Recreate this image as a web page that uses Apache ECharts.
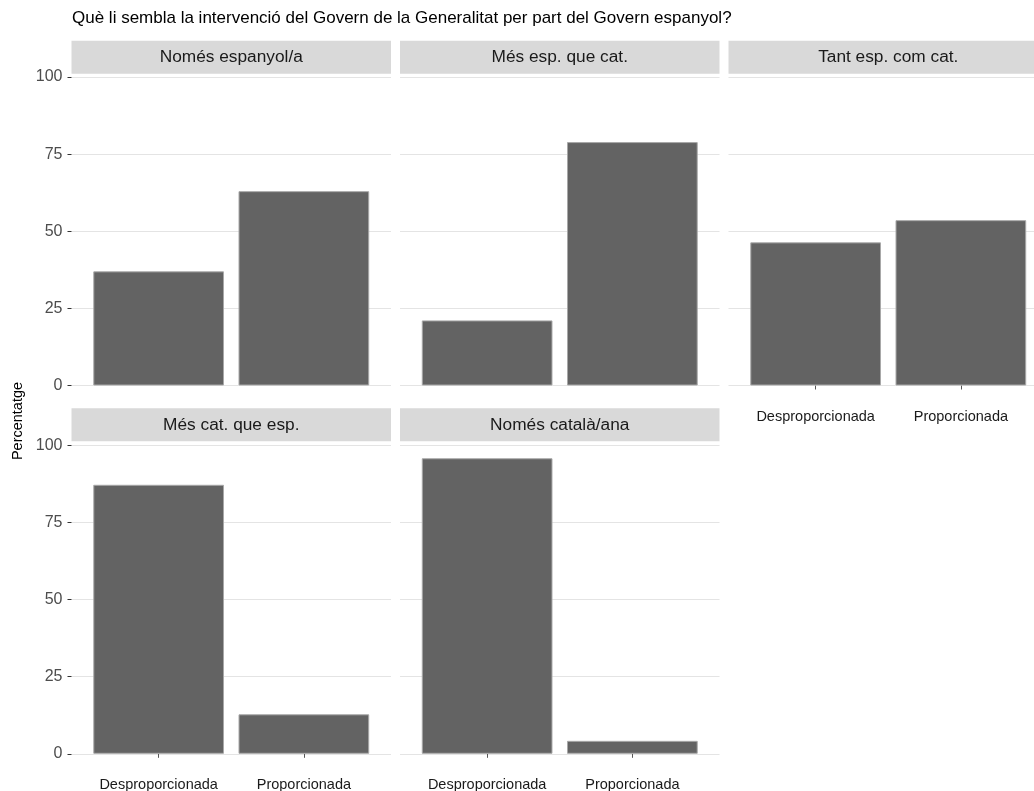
<!DOCTYPE html>
<html>
<head>
<meta charset="utf-8">
<script src="https://cdn.jsdelivr.net/npm/echarts@6/dist/echarts.min.js"></script>
<style>
  html, body { margin: 0; padding: 0; background: #fff; }
  #chart { width: 1034px; height: 791px; }
</style>
</head>
<body>
<div id="chart"></div>
<script>
// ---- Data ----
const title = 'Què li sembla la intervenció del Govern de la Generalitat per part del Govern espanyol?';
const yAxisTitle = 'Percentatge';
const facets = ['Només espanyol/a', 'Més esp. que cat.', 'Tant esp. com cat.', 'Més cat. que esp.', 'Només català/ana'];
const categories = ['Desproporcionada', 'Proporcionada'];
const desproporcionada = [37.0, 21.1, 46.4, 87.2, 95.8];
const proporcionada = [63.0, 78.9, 53.6, 12.8, 4.2];
const yTicks = [0, 25, 50, 75, 100];

// ---- Layout ----
const FONT = '"Liberation Sans", Arial, sans-serif';
const panelLefts = [71.5, 400, 728.5];
const panelW = 319.5;
const rowTop100 = [77, 445.3];      // pixel y of value 100
const plotH = 308.5;                // 0..100 height
const stripTop = [40.7, 408.3];
const stripH = 33;
const xOffset = 15;                 // expansion below 0
const barW = 0.9 * panelW / 2.2;

const grids = [], xAxes = [], yAxes = [], series = [], graphics = [];

facets.forEach((name, i) => {
  const col = i % 3, row = Math.floor(i / 3);
  const left = panelLefts[col];
  const showX = (row === 1) || (col === 2);
  const showY = col === 0;
  grids.push({ left: left, top: rowTop100[row], width: panelW, height: plotH, outerBoundsMode: 'none', containLabel: false });
  xAxes.push({
    type: 'value', gridIndex: i, min: 0.4, max: 2.6, offset: xOffset,
    axisLine: { show: false },
    splitLine: { show: false },
    axisTick: { show: showX, customValues: [1, 2], length: 4, lineStyle: { color: '#555', width: 1 } },
    axisLabel: {
      show: showX, customValues: [1, 2], margin: 9,
      formatter: v => categories[Math.round(v) - 1],
      color: '#1a1a1a', fontSize: 14.5, fontFamily: FONT
    }
  });
  yAxes.push({
    type: 'value', gridIndex: i, min: 0, max: 100, interval: 25,
    axisLine: { show: false },
    axisTick: { show: showY, length: 4, lineStyle: { color: '#333', width: 1 } },
    axisLabel: { show: showY, margin: 9, color: '#4d4d4d', fontSize: 16, fontFamily: FONT },
    splitLine: { show: true, lineStyle: { color: '#e4e4e4', width: 1.2 } }
  });
  series.push({
    type: 'bar', xAxisIndex: i, yAxisIndex: i, barWidth: barW,
    data: [[1, desproporcionada[i]], [2, proporcionada[i]]],
    itemStyle: { color: '#636363', borderColor: '#a8a8a8', borderWidth: 1 },
    silent: true
  });
  // strip
  graphics.push({
    type: 'rect', shape: { x: left, y: stripTop[row], width: panelW, height: stripH },
    style: { fill: '#d9d9d9' }, silent: true
  });
  graphics.push({
    type: 'text', x: left + panelW / 2, y: stripTop[row] + stripH / 2,
    style: { text: name, fill: '#1a1a1a', font: '17.3px ' + FONT, textAlign: 'center', textVerticalAlign: 'middle' },
    silent: true
  });
});

graphics.push({
  type: 'text', x: 72, y: 18,
  style: { text: title, fill: '#000', font: '17px ' + FONT, textAlign: 'left', textVerticalAlign: 'middle' }
});
graphics.push({
  type: 'text', x: 18, y: 421, rotation: Math.PI / 2,
  style: { text: yAxisTitle, fill: '#000', font: '14.5px ' + FONT, textAlign: 'center', textVerticalAlign: 'middle' }
});

const chart = echarts.init(document.getElementById('chart'), null, { renderer: 'canvas' });
chart.setOption({
  animation: false,
  backgroundColor: '#fff',
  grid: grids, xAxis: xAxes, yAxis: yAxes, series: series,
  graphic: graphics
});
</script>
</body>
</html>
